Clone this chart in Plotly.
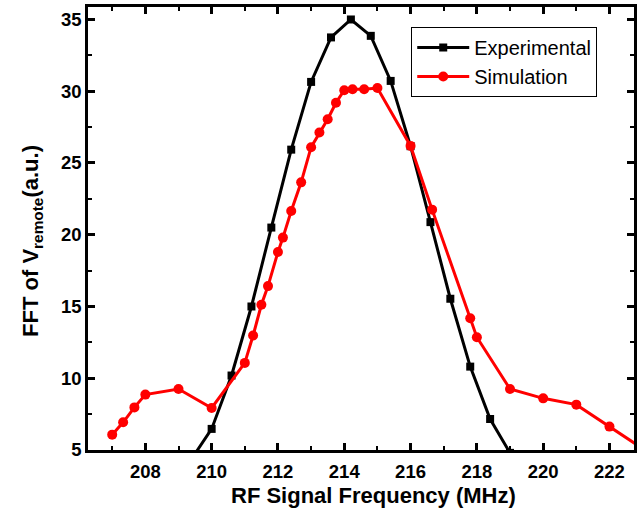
import plotly.graph_objects as go

exp_x = [209.4, 210.0, 210.6, 211.2, 211.8, 212.4, 213.0, 213.6, 214.2, 214.8,
         215.4, 216.0, 216.6, 217.2, 217.8, 218.4, 219.0]
exp_y = [4.4, 6.47, 10.19, 15.0, 20.5, 25.93, 30.65, 33.75, 35.0, 33.86,
         30.72, 26.17, 20.88, 15.54, 10.81, 7.16, 4.8]

sim_x = [207.0, 207.33, 207.67, 208.0, 209.0, 210.0, 211.0, 211.25, 211.5, 211.7,
         212.0, 212.15, 212.4, 212.7, 213.0, 213.25, 213.5, 213.75, 214.0, 214.25,
         214.6, 215.0, 216.0, 216.65, 217.8, 218.0, 219.0, 220.0, 221.0, 222.0, 223.0]
sim_y = [6.07, 6.93, 7.97, 8.86, 9.25, 7.93, 11.07, 12.98, 15.12, 16.42,
         18.8, 19.8, 21.65, 23.65, 26.1, 27.12, 28.05, 29.2, 30.07, 30.14,
         30.14, 30.22, 26.19, 21.75, 14.18, 12.86, 9.25, 8.6, 8.16, 6.63, 5.1]

x_ticks = [208, 210, 212, 214, 216, 218, 220, 222]
y_ticks = [5, 10, 15, 20, 25, 30, 35]

x_title = "RF Signal Frequency (MHz)"
y_title = "FFT of V<sub>remote</sub>(a.u.)"

fig = go.Figure()
fig.add_trace(go.Scatter(x=exp_x, y=exp_y, mode="lines+markers", name="Experimental",
                         line=dict(color="black", width=3),
                         marker=dict(symbol="square", size=8, color="black")))
fig.add_trace(go.Scatter(x=sim_x, y=sim_y, mode="lines+markers", name="Simulation",
                         line=dict(color="#ff0000", width=3),
                         marker=dict(symbol="circle", size=10, color="#ff0000")))

font_b = "Liberation Sans"
axis_common = dict(showline=True, linecolor="black", linewidth=2.5, mirror="allticks",
                   ticks="inside", ticklen=7, tickwidth=2.5, tickcolor="black",
                   showgrid=False, zeroline=False,
                   tickfont=dict(family=font_b, size=18.5, color="black", weight="bold"))

fig.update_xaxes(range=[206.27, 222.74], tickvals=x_ticks, ticklabelstandoff=3,
                 minor=dict(ticks="inside", dtick=1, tick0=207, ticklen=4, tickwidth=2, tickcolor="black"),
                 **axis_common)
fig.update_yaxes(range=[5, 35.87], tickvals=y_ticks,
                 minor=dict(ticks="inside", dtick=2.5, tick0=5, ticklen=4, tickwidth=2, tickcolor="black"),
                 **axis_common)

fig.add_annotation(text=x_title, xref="paper", yref="paper", x=0.5237, y=-0.1016,
                   xanchor="center", yanchor="middle", showarrow=False,
                   font=dict(family=font_b, size=22, color="black", weight="bold"))
fig.add_annotation(text=y_title, xref="paper", yref="paper", x=0, y=0.472, xshift=-56,
                   xanchor="center", yanchor="middle", showarrow=False, textangle=-90,
                   font=dict(family=font_b, size=22, color="black", weight="bold"))

fig.update_layout(width=641, height=510, margin=dict(l=88, r=4, t=7, b=60),
                  plot_bgcolor="white", paper_bgcolor="white",
                  legend=dict(x=0.592, y=0.955, xanchor="left", yanchor="top",
                              bgcolor="white", bordercolor="black", borderwidth=1,
                              font=dict(family="Liberation Sans", size=20, color="black"),
                              itemwidth=52, tracegroupgap=0),
                  showlegend=True)

fig.write_html("out.html")
